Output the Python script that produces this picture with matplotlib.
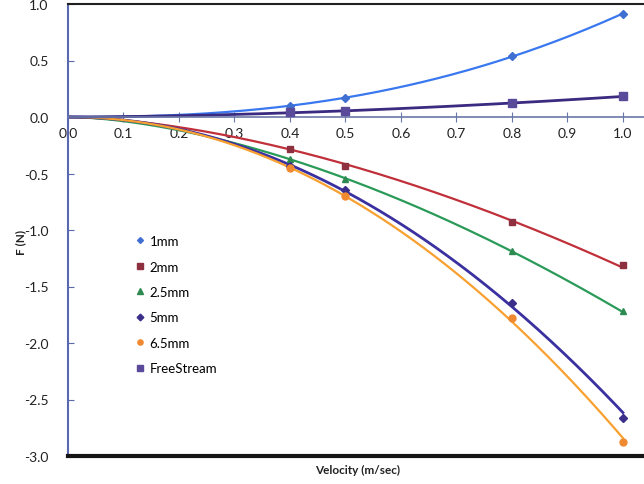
import numpy as np
import matplotlib
matplotlib.use("Agg")
import matplotlib.pyplot as plt

plt.rcParams['font.family'] = ['Lato', 'DejaVu Sans']

velocity = [0.4, 0.5, 0.8, 1.0]
series_names = ["1mm", "2mm", "2.5mm", "5mm", "6.5mm", "FreeStream"]
f_1mm = [0.10, 0.17, 0.54, 0.91]
f_2mm = [-0.28, -0.43, -0.93, -1.31]
f_25mm = [-0.37, -0.55, -1.19, -1.72]
f_5mm = [-0.43, -0.65, -1.65, -2.66]
f_65mm = [-0.45, -0.70, -1.78, -2.88]
f_free = [0.04, 0.05, 0.12, 0.19]
series_values = [f_1mm, f_2mm, f_25mm, f_5mm, f_65mm, f_free]

marker_colors = ['#3f6fd0', '#8e3040', '#2e8a50', '#3a2e8a', '#f08a30', '#5a4a9a']
line_colors = ['#3a78f0', '#c0303a', '#2a9a58', '#3a30a0', '#f8a030', '#3a2a80']
markers = ['D', 's', '^', 'D', 'o', 's']
msizes = [4, 5, 5, 4.5, 5, 5.5]

fig = plt.figure(figsize=(6.44, 4.85), dpi=100)
ax = fig.add_axes([68/644, 1-457/485, 1-68/644, (457-5)/485])

xs = np.array(velocity)
xfit = np.linspace(0.0005, 1.0, 300)
for name, vals, mc, lc, m, ms in zip(series_names, series_values, marker_colors,
                                     line_colors, markers, msizes):
    v = np.array(vals)
    sgn = np.sign(v.mean())
    # power-law trendline: |y| = a x^p
    p, lna = np.polyfit(np.log(xs), np.log(np.abs(v)), 1)
    yfit = sgn * np.exp(lna) * xfit**p
    lw = 2.0 if name in ("5mm", "FreeStream") else 1.6
    ax.plot(xfit, yfit, color=lc, lw=lw, zorder=2)
    ax.plot(xs, v, linestyle='none', marker=m, color=mc, markersize=ms,
            label=name, zorder=3)

ax.set_xlim(0, 1.038)
ax.set_ylim(-3.0, 1.0)
ax.set_xticks(np.arange(0, 1.01, 0.1))
ax.set_xticklabels([f"{t:.1f}" for t in np.arange(0, 1.01, 0.1)])
ax.set_yticks(np.arange(-3.0, 1.01, 0.5))
ax.set_yticklabels([f"{t:.1f}" for t in np.arange(-3.0, 1.01, 0.5)])

ax.spines['bottom'].set_position(('data', 0))
ax.spines['bottom'].set_color('#6a78a8')
ax.spines['bottom'].set_linewidth(1.2)
ax.spines['left'].set_color('#5a68b0')
ax.spines['left'].set_linewidth(1.5)
ax.spines['top'].set_color('#202020')
ax.spines['top'].set_linewidth(1.5)
ax.spines['right'].set_visible(False)
ax.axhline(-3.0, color='#151515', lw=3, clip_on=False, zorder=5)

ax.tick_params(axis='x', direction='inout', length=7, color='#6a78a8',
               labelsize=10, pad=4, labelcolor='#222222')
ax.tick_params(axis='y', direction='in', length=4, color='#5a68b0',
               labelsize=10, pad=14, labelcolor='#222222')

fig.text(21/644, 1-243/485, "F (N)", rotation=90,
         ha='center', va='center', fontsize=8.5, fontweight='bold', color='#222222')
fig.text(358/644, 1-470/485, "Velocity (m/sec)", ha='center', va='center',
         fontsize=8.5, fontweight='bold', color='#222222')

leg = ax.legend(loc='upper left', bbox_to_anchor=(0.098, 0.515), frameon=False,
                fontsize=9.5, handlelength=0.5, handletextpad=0.5,
                labelspacing=1.02, markerscale=0.75)

fig.savefig("out.png", dpi=100)
